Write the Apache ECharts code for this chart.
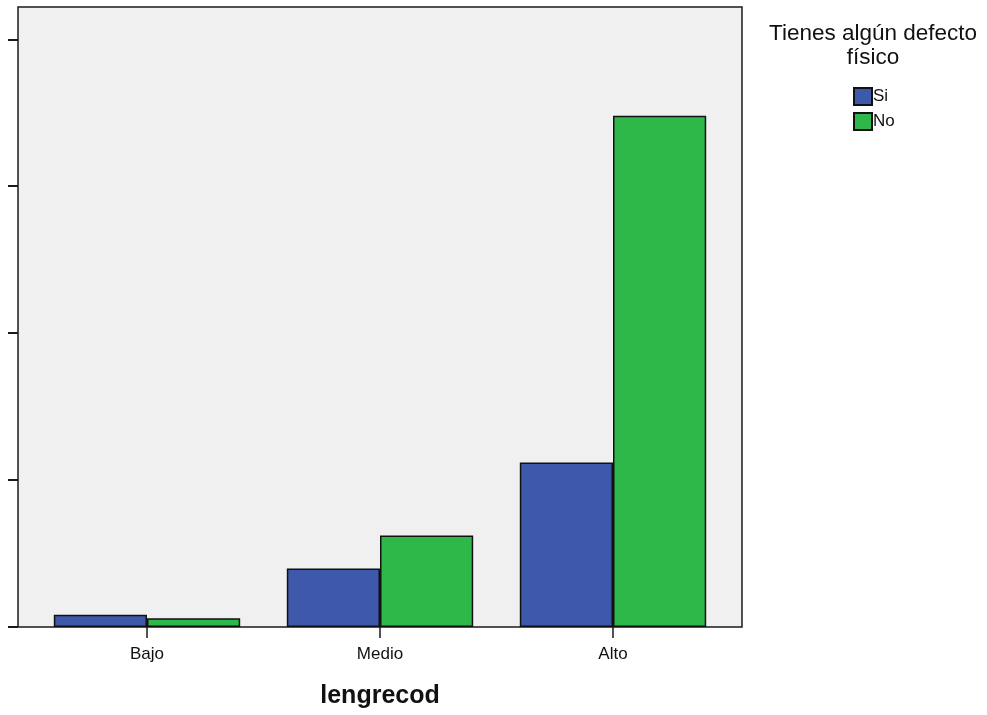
<!DOCTYPE html>
<html><head><meta charset="utf-8">
<script src="https://cdn.jsdelivr.net/npm/echarts@6/dist/echarts.min.js"></script>
<style>html,body{margin:0;padding:0;background:#fff}#c{width:987px;height:715px}</style>
</head><body><div id="c"></div>
<script>
const categories = ['Bajo', 'Medio', 'Alto'];
const siValues = [0.083, 0.398, 1.12];
const noValues = [0.06, 0.622, 3.48];
const yTicks = [0, 1, 2, 3, 4];
const legendTitle = 'Tienes algún defecto\nfísico';
const xTitle = 'lengrecod';

const FONT = '"Liberation Sans", Arial, sans-serif';
const chart = echarts.init(document.getElementById('c'), null, {renderer: 'canvas'});
const yMax = 4.22;
chart.setOption({
  animation: false,
  textStyle: {fontFamily: FONT},
  grid: [
    {left: 18, right: 245, top: 7, bottom: 88, show: true, backgroundColor: '#f0f0f0', borderColor: '#1a1a1a', borderWidth: 1.5},
    {left: 30.5, right: 257.5, top: 7, bottom: 88}
  ],
  xAxis: [
    {gridIndex: 0, type: 'value', min: 0, max: 1, show: false},
    {gridIndex: 1, type: 'category', data: categories,
     axisLine: {show: false},
     axisTick: {show: true, alignWithLabel: true, length: 11, lineStyle: {color: '#1a1a1a', width: 1.5}},
     axisLabel: {color: '#111', fontSize: 17, margin: 19, fontFamily: FONT},
     name: xTitle, nameLocation: 'middle', nameGap: 57,
     nameTextStyle: {fontSize: 25, fontWeight: 'bold', color: '#111', fontFamily: FONT}}
  ],
  yAxis: [
    {gridIndex: 0, type: 'value', min: yTicks[0], max: yMax, interval: 1,
     axisLine: {show: false},
     axisTick: {show: true, length: 10, customValues: yTicks, lineStyle: {color: '#1a1a1a', width: 2}},
     axisLabel: {show: false}, splitLine: {show: false}},
    {gridIndex: 1, type: 'value', min: 0, max: yMax, show: false, splitLine: {show: false}}
  ],
  legend: {
    orient: 'vertical', left: 848, top: 82,
    icon: 'rect',
    itemWidth: 18, itemHeight: 17, itemGap: 6,
    textStyle: {fontSize: 17, color: '#111', fontFamily: FONT, padding: [0, 0, 0, -4]},
    data: ['Si', 'No']
  },
  graphic: [{
    type: 'text', x: 873, y: 22,
    style: {text: legendTitle, textAlign: 'center', font: '22.5px "Liberation Sans", Arial, sans-serif', fill: '#111', lineHeight: 24}
  }],
  series: [
    {name: 'Si', type: 'bar', xAxisIndex: 1, yAxisIndex: 1, data: siValues,
     barGap: '0%', barCategoryGap: '20%',
     itemStyle: {color: '#3e59ab', borderColor: '#111', borderWidth: 1.5}},
    {name: 'No', type: 'bar', xAxisIndex: 1, yAxisIndex: 1, data: noValues,
     barGap: '0%', barCategoryGap: '20%',
     itemStyle: {color: '#2fb84a', borderColor: '#111', borderWidth: 1.5}}
  ]
});
</script></body></html>
